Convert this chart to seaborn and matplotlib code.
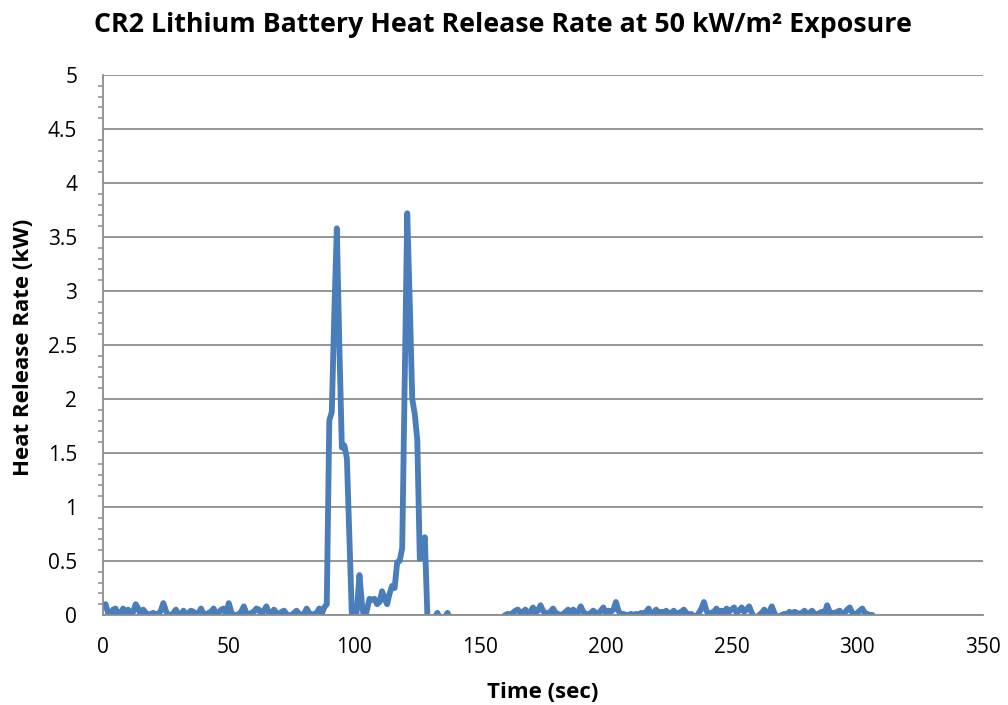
import numpy as np
import pandas as pd
import matplotlib
matplotlib.use("Agg")
import matplotlib.pyplot as plt
from matplotlib.ticker import MultipleLocator
import seaborn as sns

# Heat release rate samples, one per second from t = 0 s
time_sec = list(range(0, 307))
hrr_kw = [
    0.08, 0.10, 0.02, 0.00, 0.05, 0.06, 0.00, 0.02, 0.06, 0.01,
    0.05, 0.00, 0.03, 0.10, 0.06, 0.00, 0.05, 0.02, 0.00, 0.01,
    0.02, 0.00, 0.01, 0.04, 0.11, 0.04, -0.01, 0.00, 0.02, 0.05,
    0.00, 0.01, 0.04, 0.00, 0.02, 0.04, 0.03, 0.00, 0.02, 0.06,
    0.01, 0.00, 0.02, 0.03, 0.06, 0.01, 0.02, 0.05, 0.06, 0.00,
    0.11, 0.03, -0.01, 0.00, 0.01, 0.03, 0.08, 0.02, 0.00, 0.02,
    0.03, 0.06, 0.05, 0.00, 0.04, 0.08, 0.02, 0.00, 0.05, 0.02,
    0.00, 0.03, 0.04, 0.01, -0.01, 0.00, 0.02, 0.04, 0.01, 0.00,
    0.01, 0.06, 0.02, 0.00, 0.01, 0.02, 0.06, 0.01, 0.07, 0.10,
    1.80, 1.88, 2.80, 3.58, 2.50, 1.55, 1.57, 1.45, 0.70, -0.02,
    -0.10, 0.05, 0.37, 0.10, -0.05, 0.05, 0.15, 0.14, 0.15, 0.10,
    0.12, 0.22, 0.15, 0.10, 0.20, 0.27, 0.25, 0.49, 0.50, 0.62,
    2.20, 3.72, 2.90, 2.00, 1.86, 1.62, 0.52, 0.60, 0.72, 0.00,
    -0.10, -0.05, -0.02, 0.02, -0.03, -0.05, -0.02, 0.02, -0.03, -0.06,
    -0.08, -0.05, -0.07, -0.09, -0.06, -0.08, -0.05, -0.07, -0.09, -0.06,
    -0.05, -0.08, -0.06, -0.07, -0.05, -0.09, -0.06, -0.05, -0.04, -0.02,
    0.00, 0.01, 0.00, 0.02, 0.04, 0.05, 0.02, 0.03, 0.05, 0.01,
    0.03, 0.07, 0.02, 0.04, 0.09, 0.04, 0.01, 0.02, 0.03, 0.06,
    0.02, 0.01, 0.00, 0.01, 0.03, 0.05, 0.02, 0.05, 0.02, 0.03,
    0.08, 0.03, 0.01, 0.00, 0.02, 0.04, 0.02, 0.01, 0.04, 0.07,
    0.02, 0.04, 0.03, 0.05, 0.12, 0.04, 0.00, 0.01, 0.00, 0.00,
    0.01, 0.00, 0.01, 0.00, 0.02, 0.01, 0.03, 0.06, 0.01, 0.02,
    0.05, 0.01, 0.03, 0.02, 0.04, 0.01, 0.02, 0.04, 0.01, 0.02,
    0.03, 0.05, 0.02, 0.00, 0.01, -0.01, -0.02, 0.02, 0.06, 0.12,
    0.04, 0.00, 0.02, 0.03, 0.06, 0.02, 0.04, 0.01, 0.06, 0.03,
    0.05, 0.07, 0.02, 0.04, 0.07, 0.03, 0.05, 0.08, 0.02, -0.02,
    -0.02, 0.00, 0.02, 0.05, 0.01, 0.03, 0.08, 0.02, -0.02, -0.01,
    0.00, 0.01, 0.00, 0.03, 0.01, 0.03, 0.02, 0.01, 0.02, 0.04,
    0.01, 0.02, 0.04, 0.01, 0.00, 0.02, 0.03, 0.02, 0.09, 0.03,
    0.01, 0.02, 0.03, 0.04, 0.01, 0.02, 0.05, 0.07, 0.02, 0.00,
    0.02, 0.04, 0.06, 0.02, 0.01, 0.00, 0.00,
]

x_ticks = [0, 50, 100, 150, 200, 250, 300, 350]
y_ticks = [0, 0.5, 1, 1.5, 2, 2.5, 3, 3.5, 4, 4.5, 5]
y_tick_labels = ["0", "0.5", "1", "1.5", "2", "2.5", "3", "3.5", "4", "4.5", "5"]

title_text = "CR2 Lithium Battery Heat Release Rate at 50 kW/m\u00b2 Exposure"
x_label = "Time (sec)"
y_label = "Heat Release Rate (kW)"

df = pd.DataFrame({"time": time_sec, "hrr": hrr_kw})

sns.set_style("white")
plt.rcParams["font.family"] = ["Open Sans", "DejaVu Sans"]
plt.rcParams["text.color"] = "black"
plt.rcParams["axes.labelcolor"] = "black"

grid_color = "#8c8c8c"
line_color = "#4A7EBB"

fig = plt.figure(figsize=(10.08, 7.05), dpi=100)
ax = fig.add_axes([103 / 1008, 1 - 615 / 705, 880 / 1008, 540 / 705])

sns.lineplot(data=df, x="time", y="hrr", ax=ax, color=line_color,
             linewidth=4.2, solid_joinstyle="round", solid_capstyle="round")

ax.set_xlim(0, 350)
ax.set_ylim(0, 5)
ax.set_xticks(x_ticks)
ax.set_yticks(y_ticks)
ax.set_yticklabels(y_tick_labels)
ax.yaxis.set_minor_locator(MultipleLocator(0.1))

ax.grid(axis="y", which="major", color=grid_color, linewidth=1.3)
ax.grid(axis="x", visible=False)
ax.set_axisbelow(True)

for side in ("top", "right"):
    ax.spines[side].set_visible(False)
for side in ("left", "bottom"):
    ax.spines[side].set_color(grid_color)
    ax.spines[side].set_linewidth(1.3)

ax.tick_params(axis="both", which="major", direction="out", length=4.5,
               width=1.3, color=grid_color, labelsize=15, labelcolor="black")
ax.tick_params(axis="y", which="major", pad=14)
ax.tick_params(axis="x", which="major", pad=11)
ax.tick_params(axis="y", which="minor", direction="out", length=3.5,
               width=1.1, color=grid_color, left=True)
ax.tick_params(axis="x", which="minor", bottom=False)

ax.set_xlabel(x_label, fontsize=16, fontweight="bold", va="center", color="black")
ax.set_ylabel(y_label, fontsize=16, fontweight="bold", va="center", color="black")
ax.xaxis.set_label_coords(0.5, (615 - 692) / 540)
ax.yaxis.set_label_coords((24 - 103) / 880, (615 - 347) / 540)

fig.text(503 / 1008, 1 - 25 / 705, title_text, ha="center", va="center",
         fontsize=19.3, fontweight="bold", color="black")

fig.savefig("out.png", dpi=100)
